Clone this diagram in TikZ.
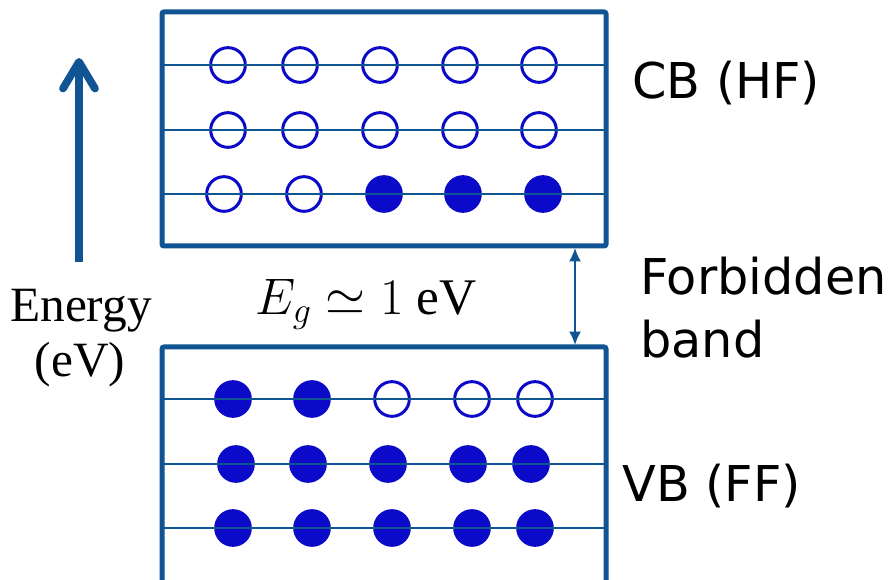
\RequirePackage{fix-cm}
\documentclass[tikz,border=0pt]{standalone}
\usepackage{fontspec}
\setmainfont{Liberation Serif}
\newfontfamily\labelfont{DejaVu Sans}
\usetikzlibrary{arrows.meta}

\definecolor{bandblue}{RGB}{16,84,148}
\definecolor{dotblue}{RGB}{10,10,200}

\begin{document}
\begin{tikzpicture}[x=0.75pt,y=-0.75pt,>=Latex,
 bandbox/.style={draw=bandblue,line width=3.75pt,rounded corners=1.5pt},
 level/.style={draw=bandblue,line width=1.5pt},
 hole/.style={circle,draw=dotblue,line width=2.25pt,minimum size=26pt,inner sep=0pt},
 electron/.style={hole,fill=dotblue},
 bandlabel/.style={font=\labelfont\fontsize{37}{44}\selectfont,inner sep=0pt,anchor=base west},
 energytext/.style={font=\fontsize{37}{44}\selectfont,inner sep=0pt,anchor=base}]
\useasboundingbox (0,0) rectangle (891,580);
\clip (0,0) rectangle (891,580);
% conduction band
\draw[bandbox] (162,12) rectangle (606,246);
\foreach \x [count=\i] in {228,300,380,460,539} {
  \node[hole] (cba-\i) at (\x,65) {};
  \node[hole] (cbb-\i) at (\x,130) {};
}
\foreach \x/\s [count=\i] in {224/hole,304/hole,384/electron,463/electron,543/electron}
  \node[\s] (cbc-\i) at (\x,194) {};
\foreach \y in {65,130,194} \draw[level] (162,\y) -- (606,\y);
% valence band
\draw[bandbox] (162,347) rectangle (606,640);
\foreach \x/\s [count=\i] in {233/electron,312/electron,392/hole,472/hole,535/hole}
  \node[\s] (vba-\i) at (\x,399) {};
\foreach \x [count=\i] in {236,308,388,468,531}
  \node[electron] (vbb-\i) at (\x,464) {};
\foreach \x [count=\i] in {233,312,392,472,535}
  \node[electron] (vbc-\i) at (\x,528) {};
\foreach \y in {399,464,528} \draw[level] (162,\y) -- (606,\y);
% gap and energy axis
\coordinate (gaptop) at (575,248);
\coordinate (gapbot) at (575,345);
\draw[<->,draw=bandblue,line width=1.5pt,>={Latex[length=10pt,width=9pt]}] (gaptop) -- (gapbot);
\coordinate (etail) at (79,262);
\coordinate (ehead) at (79,58);
\draw[draw=bandblue,line width=5.8pt,-{Straight Barb[length=20pt,width=24pt,round]}] (etail) -- (ehead);
\node[energytext] (energy) at (81,322) {Energy};
\node[energytext] (unit) at (80,377) {(eV)};
\node[anchor=base,inner sep=0pt,font=\fontsize{38.5}{46}\selectfont] (eg) at (366,315) {$E_g \simeq 1~\mathrm{eV}$};
\node[bandlabel] (cblabel) at (632,99) {CB (HF)};
\node[bandlabel] (forbidden) at (640,295) {Forbidden};
\node[bandlabel] (band) at (640,358) {band};
\node[bandlabel] (vblabel) at (622,501) {VB (FF)};
\end{tikzpicture}
\end{document}
